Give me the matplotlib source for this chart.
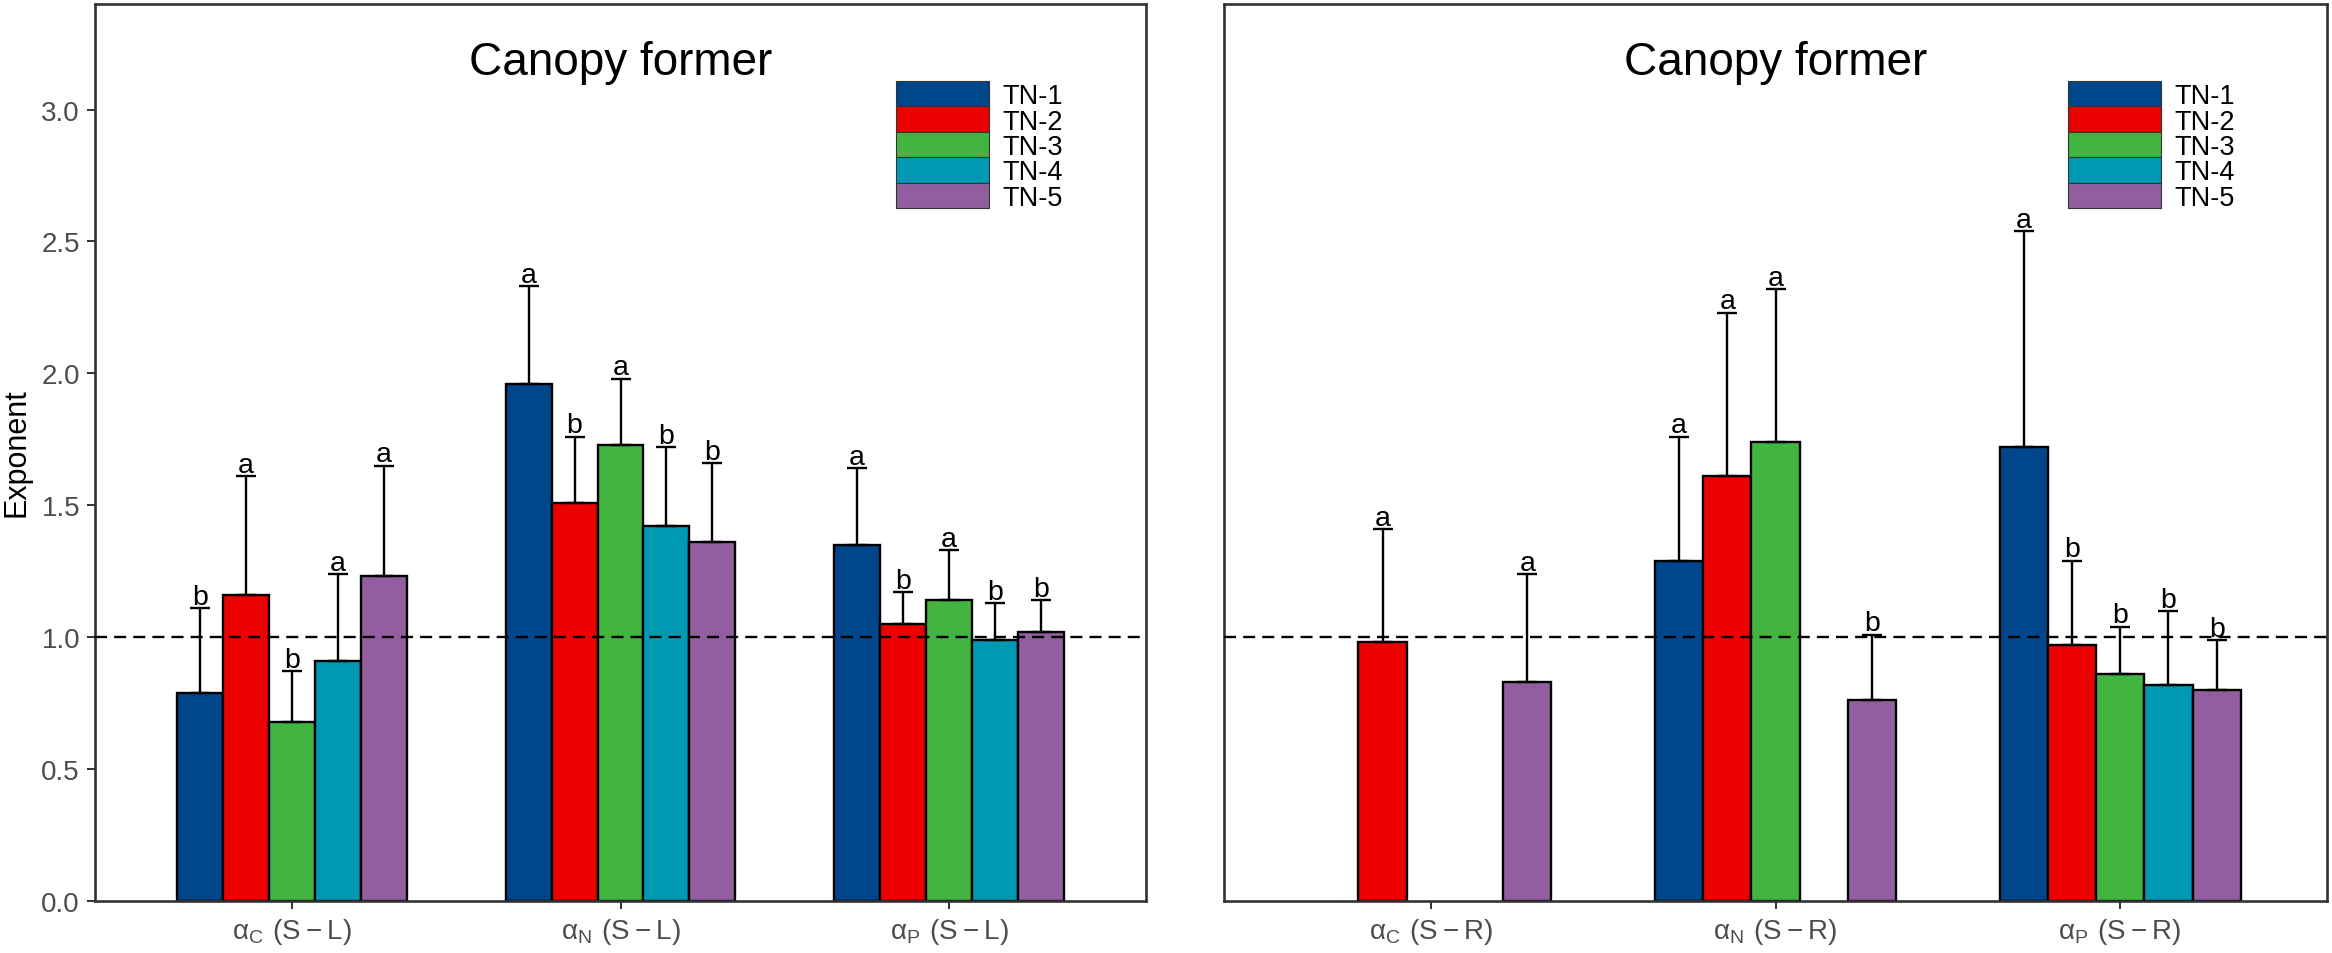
import numpy as np
import matplotlib
matplotlib.use("Agg")
import matplotlib.pyplot as plt
from matplotlib.patches import Rectangle

plt.rcParams['font.family'] = ['Liberation Sans', 'DejaVu Sans']

nan = np.nan

# ---- data ----
groups = ['TN-1', 'TN-2', 'TN-3', 'TN-4', 'TN-5']
colors = ['#00468B', '#ED0000', '#42B540', '#0099B4', '#925E9F']
elements = ['C', 'N', 'P']

# left panel: S-L exponents
left_mean = {
    'TN-1': [0.79, 1.96, 1.35],
    'TN-2': [1.16, 1.51, 1.05],
    'TN-3': [0.68, 1.73, 1.14],
    'TN-4': [0.91, 1.42, 0.99],
    'TN-5': [1.23, 1.36, 1.02],
}
left_err = {
    'TN-1': [0.32, 0.37, 0.29],
    'TN-2': [0.45, 0.25, 0.12],
    'TN-3': [0.19, 0.25, 0.19],
    'TN-4': [0.33, 0.30, 0.14],
    'TN-5': [0.42, 0.30, 0.12],
}
left_letters = {
    'TN-1': ['b', 'a', 'a'],
    'TN-2': ['a', 'b', 'b'],
    'TN-3': ['b', 'a', 'a'],
    'TN-4': ['a', 'b', 'b'],
    'TN-5': ['a', 'b', 'b'],
}

# right panel: S-R exponents (missing groups left empty)
right_mean = {
    'TN-1': [nan, 1.29, 1.72],
    'TN-2': [0.98, 1.61, 0.97],
    'TN-3': [nan, 1.74, 0.86],
    'TN-4': [nan, nan, 0.82],
    'TN-5': [0.83, 0.76, 0.80],
}
right_err = {
    'TN-1': [nan, 0.47, 0.82],
    'TN-2': [0.43, 0.62, 0.32],
    'TN-3': [nan, 0.58, 0.18],
    'TN-4': [nan, nan, 0.28],
    'TN-5': [0.41, 0.25, 0.19],
}
right_letters = {
    'TN-1': ['', 'a', 'a'],
    'TN-2': ['a', 'a', 'b'],
    'TN-3': ['', 'a', 'b'],
    'TN-4': ['', '', 'b'],
    'TN-5': ['a', 'b', 'b'],
}

W, H = 2332, 954
fig = plt.figure(figsize=(W / 100, H / 100), dpi=100)

# axes boxes in pixels (left, right, top, bottom)
ax1 = fig.add_axes([95 / W, 1 - 902 / H, (1146 - 95) / W, (902 - 5) / H])
ax2 = fig.add_axes([1224 / W, 1 - 902 / H, (2327 - 1224) / W, (902 - 5) / H])

bar_w = 0.14
x = np.arange(1, 4)
spine_col = '#333333'


def draw_panel(ax, means, errs, letters, suffix, legend_left):
    for i, g in enumerate(groups):
        xi = x + (i - 2) * bar_w
        m = np.array(means[g], dtype=float)
        e = np.array(errs[g], dtype=float)
        ok = ~np.isnan(m)
        ax.bar(xi[ok], m[ok], width=bar_w, color=colors[i],
               edgecolor='black', linewidth=1.7, zorder=2)
        ax.errorbar(xi[ok], m[ok], yerr=[np.zeros(ok.sum()), e[ok]],
                    fmt='none', ecolor='black', elinewidth=1.7, capsize=7,
                    capthick=1.7, zorder=3)
        for xx, mm, ee, lab in zip(xi, m, e, letters[g]):
            if lab and not np.isnan(mm):
                ax.text(xx, mm + ee + 0.016, lab, ha='center', va='baseline',
                        fontsize=20.5, color='black', zorder=4)

    ax.axhline(1.0, color='black', lw=1.7, ls=(0, (5.1, 3.0)), zorder=5)

    ax.set_xlim(0.4, 3.6)
    ax.set_ylim(0, 3.4)
    ax.set_xticks(x)
    ax.set_xticklabels([r'$\mathregular{α_%s\ (S-%s)}$' % (el, suffix)
                        for el in elements])
    for s in ax.spines.values():
        s.set_color(spine_col)
        s.set_linewidth(1.9)
    ax.tick_params(axis='both', colors=spine_col, labelcolor='#4D4D4D',
                   labelsize=20, length=5.8, width=1.4, pad=5)

    ax.text(0.5, (902 - 75) / 897, 'Canopy former', transform=ax.transAxes,
            ha='center', va='baseline', fontsize=33, color='black')

    # legend drawn as stacked keys, pixel sizes
    row_h = 25.4
    top = 82
    for i, g in enumerate(groups):
        y0 = top + i * row_h
        fig.patches.append(Rectangle((legend_left / W, 1 - (y0 + row_h) / H),
                                     93 / W, row_h / H,
                                     transform=fig.transFigure,
                                     facecolor=colors[i], edgecolor='#333333',
                                     linewidth=0.8))
        fig.text((legend_left + 106) / W, 1 - (y0 + row_h / 2 + 9.5) / H, g,
                 ha='left', va='baseline', fontsize=19.5, color='black')


draw_panel(ax1, left_mean, left_err, left_letters, 'L', 896)
draw_panel(ax2, right_mean, right_err, right_letters, 'R', 2068)

ax1.set_yticks([0, 0.5, 1.0, 1.5, 2.0, 2.5, 3.0])
ax1.set_yticklabels(['0.0', '0.5', '1.0', '1.5', '2.0', '2.5', '3.0'])
ax2.set_yticks([])

fig.text(16 / W, 1 - 453 / H, 'Exponent', rotation=90, ha='center',
         va='center', fontsize=22, color='black')

fig.savefig('out.png', dpi=100)
